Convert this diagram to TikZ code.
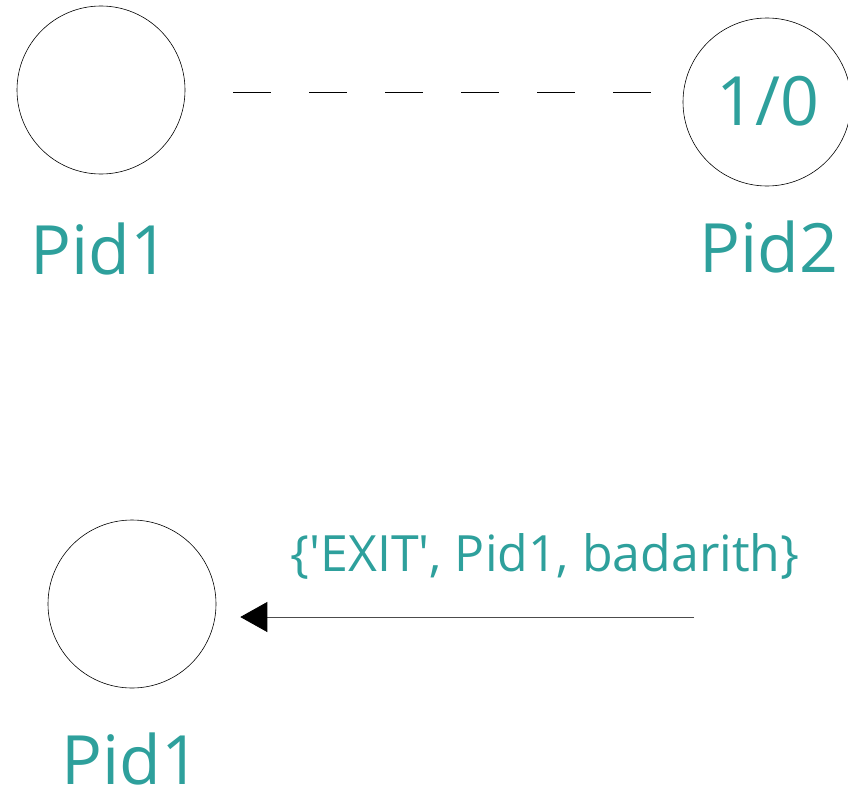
\documentclass[tikz,border=0pt]{standalone}
\usepackage{fontspec}
\setmainfont{Open Sans}[Ligatures=TeXOff]
\usetikzlibrary{arrows.meta}
\definecolor{tealc}{RGB}{46,160,156}
\begin{document}
\begin{tikzpicture}[x=1pt,y=-1pt,
  proc/.style={circle,draw=black,line width=0.6pt,minimum size=168pt,inner sep=0pt},
  big/.style={text=tealc,font=\fontsize{68}{68}\selectfont,anchor=base,inner sep=0pt},
  msg/.style={text=tealc,font=\fontsize{50}{50}\selectfont,anchor=base,inner sep=0pt}]
\useasboundingbox (0,0) rectangle (848,792);
\node[proc] (c1) at (101,90) {};
\node[proc] (c2) at (767,102) {};
\node[proc] (c3) at (132,604) {};
\node[big] (n10) at (768,125) {1/0};
\node[big] (l1) at (100,274) {Pid1};
\node[big] (l2) at (769,272) {Pid2};
\node[big] (l3) at (131,784) {Pid1};
\node[msg] (m) at (545,571) {\{'EXIT', Pid1, badarith\}};
\draw[line width=0.8pt,dash pattern=on 38pt off 38pt,shorten <=48pt,shorten >=27pt] (c1.east |- 0,92) -- (c2.west |- 0,92);
\coordinate (s) at (694,617);
\draw[line width=0.8pt,draw=black!70,shorten >=24pt,-{Triangle[length=27pt,width=30pt,fill=black,color=black]}] (s) -- (c3.east |- s);
\end{tikzpicture}
\end{document}
